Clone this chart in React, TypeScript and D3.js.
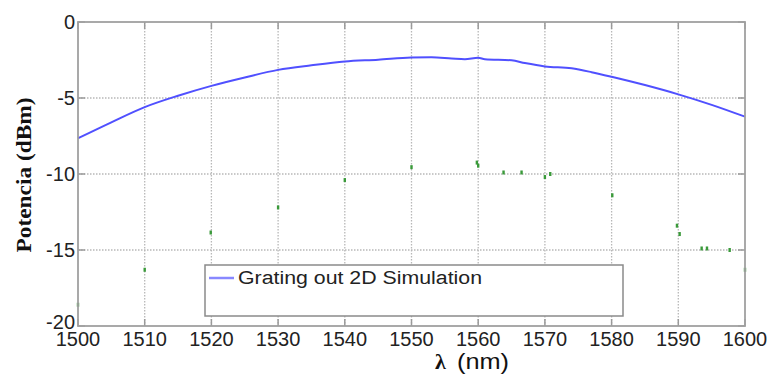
import React from 'react';
import * as d3 from 'd3';

// wavelength (nm) and simulated output power (dBm)
const wavelength = [1500, 1505, 1510, 1515, 1520, 1525, 1530, 1535, 1540, 1545, 1550, 1553, 1556, 1558, 1560, 1561, 1565, 1567, 1570, 1574, 1577, 1580, 1585, 1590, 1595, 1600];
const power = [-7.65, -6.6, -5.6, -4.85, -4.2, -3.65, -3.15, -2.85, -2.6, -2.48, -2.33, -2.32, -2.4, -2.45, -2.35, -2.45, -2.52, -2.7, -2.92, -3.05, -3.3, -3.6, -4.15, -4.76, -5.45, -6.23];

// faint remains of a second (green) trace
const greenX = [1500, 1510, 1519.9, 1520, 1530, 1540, 1550, 1559.8, 1560, 1563.8, 1566.5, 1570, 1570.8, 1580.1, 1589.8, 1590.2, 1593.5, 1594.3, 1597.7, 1600];
const greenY = [-18.6, -16.3, -13.85, -18.4, -12.2, -10.4, -9.55, -9.25, -9.45, -9.9, -9.9, -10.2, -10.0, -11.4, -13.4, -13.95, -14.9, -14.9, -15.0, -16.3];

const xTicks = [1500, 1510, 1520, 1530, 1540, 1550, 1560, 1570, 1580, 1590, 1600];
const yTicks = [0, -5, -10, -15, -20];
const legendLabel = 'Grating out 2D Simulation';

const W = 769;
const H = 377;
const left = 78, right = 745, top = 22, bottom = 326;

export default function App() {
  const x = d3.scaleLinear().domain([1500, 1600]).range([left, right]);
  const y = d3.scaleLinear().domain([-20, 0]).range([bottom, top]);

  const line = d3.line<number>()
    .x((d, i) => x(wavelength[i]))
    .y(d => y(d))
    .curve(d3.curveMonotoneX);

  const sans = 'Arial, "Liberation Sans", sans-serif';
  const serif = '"Times New Roman", "Liberation Serif", serif';

  return (
    <svg width={W} height={H} style={{ position: 'absolute', left: 0, top: 0, background: '#fff' }}>
      {/* grid */}
      <g stroke="#b8b8b8" strokeWidth={1.3} strokeDasharray="1.5,1.5">
        {xTicks.slice(1, -1).map(t => (
          <line key={'gx' + t} x1={x(t)} x2={x(t)} y1={top} y2={bottom} />
        ))}
        {yTicks.slice(1, -1).map(t => (
          <line key={'gy' + t} x1={left} x2={right} y1={y(t)} y2={y(t)} />
        ))}
      </g>
      {/* ticks */}
      <g stroke="#9a9a9a" strokeWidth={1.5}>
        {xTicks.map(t => (
          <g key={'tx' + t}>
            <line x1={x(t)} x2={x(t)} y1={bottom} y2={bottom - 7} />
            <line x1={x(t)} x2={x(t)} y1={top} y2={top + 7} />
          </g>
        ))}
        {yTicks.map(t => (
          <g key={'ty' + t}>
            <line x1={left} x2={left + 7} y1={y(t)} y2={y(t)} />
            <line x1={right} x2={right - 7} y1={y(t)} y2={y(t)} />
          </g>
        ))}
      </g>
      {/* green fragments */}
      <g fill="#3a9a3a">
        {greenX.map((g, i) => (
          <rect key={'gr' + i} x={x(g) - 1.2} y={y(greenY[i]) - 2} width={2.4} height={4} />
        ))}
      </g>
      {/* main curve */}
      <path d={line(power) || ''} fill="none" stroke="#5050ff" strokeWidth={2} />
      {/* frame */}
      <rect x={left} y={top} width={right - left} height={bottom - top} fill="none" stroke="#a0a0a0" strokeWidth={1.8} />
      {/* legend */}
      <rect x={205} y={265} width={418} height={51} fill="#fff" stroke="#8a8a8a" strokeWidth={1.5} />
      <line x1={209} x2={234} y1={278} y2={278} stroke="#8888ff" strokeWidth={2.5} />
      <text x={238} y={284} fontFamily={sans} fontSize={18} fill="#222" textLength={244} lengthAdjust="spacingAndGlyphs">{legendLabel}</text>
      {/* x tick labels */}
      {xTicks.map(t => (
        <text key={'lx' + t} x={x(t)} y={346} textAnchor="middle" fontFamily={sans} fontSize={20} fill="#222">{t}</text>
      ))}
      {/* y tick labels */}
      {yTicks.map(t => (
        <text key={'ly' + t} x={75} y={t === -20 ? y(t) + 3 : y(t) + 7} textAnchor="end" fontFamily={sans} fontSize={20} fill="#222">{t}</text>
      ))}
      {/* axis titles */}
      <text transform="translate(31,175) rotate(-90)" textAnchor="middle" fontFamily={serif} fontWeight="bold" fontSize={20} fill="#111" textLength={155} lengthAdjust="spacingAndGlyphs">Potencia (dBm)</text>
      <text x={435} y={369} fontFamily={serif} fontWeight="bold" fontSize={22} fill="#111">λ</text>
      <text x={457} y={369} fontFamily={sans} fontSize={22} fill="#111" textLength={52} lengthAdjust="spacingAndGlyphs">(nm)</text>
    </svg>
  );
}
